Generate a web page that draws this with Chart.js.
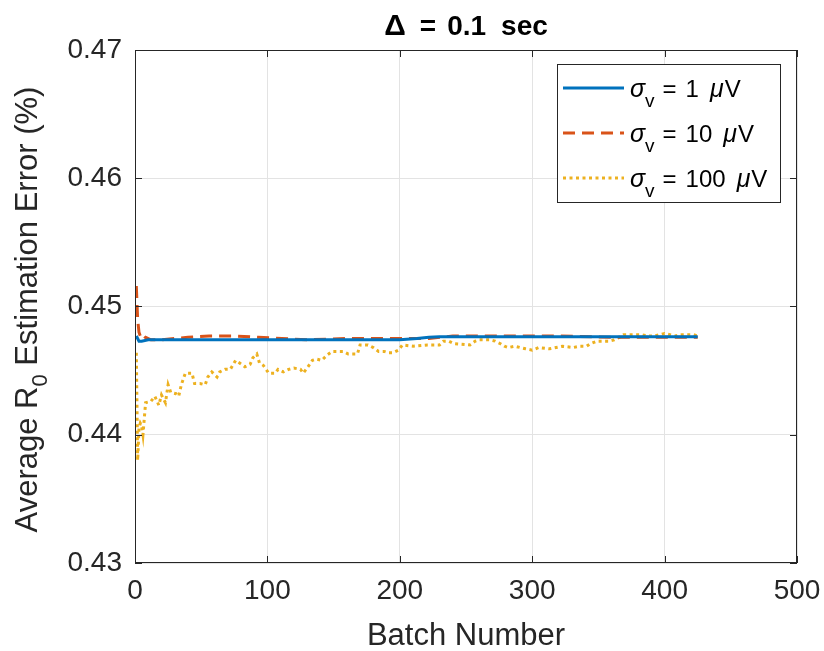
<!DOCTYPE html>
<html>
<head>
<meta charset="utf-8">
<script src="https://cdn.jsdelivr.net/npm/chart.js@4"></script>
<style>
  html, body { margin: 0; padding: 0; background: #fff; }
  #wrap { width: 824px; height: 651px; }
</style>
</head>
<body>
<div id="wrap"><canvas id="errChart" width="824" height="651"></canvas></div>
<script>
// values
const xTicks = [0, 100, 200, 300, 400, 500];
const yTicks = [0.43, 0.44, 0.45, 0.46, 0.47];

const blueBatch = [1, 2, 3, 5, 10, 30, 60, 100, 150, 200, 213, 222, 230, 260, 300, 350, 400, 425];
const blueErr = [0.4477, 0.4475, 0.4473, 0.4473, 0.4474, 0.4474, 0.4474, 0.4474, 0.4474, 0.4474,
  0.4475, 0.4476, 0.44765, 0.44765, 0.44765, 0.44765, 0.44765, 0.44765];

const redBatch = [1, 2, 3, 4, 5, 6, 8, 12, 20, 40, 56, 75, 93, 111, 130, 160, 200, 222, 240, 280, 320, 360, 400, 425];
const redErr = [0.4516, 0.4490, 0.4480, 0.4477, 0.4475, 0.4474, 0.4476, 0.4474, 0.4474, 0.4476, 0.4477, 0.4477,
  0.4476, 0.4475, 0.4474, 0.4475, 0.4475, 0.4475, 0.4477, 0.4477, 0.4477, 0.4476, 0.4476, 0.4476];

const yellowBatch = [1, 2, 3, 4, 5, 6, 8, 12, 15, 18, 20, 23, 25, 27, 31, 33, 35, 38, 43, 45, 49, 53, 55, 58, 62, 64,
  68, 72, 76, 79, 83, 87, 89, 92, 94, 97, 101, 106, 108, 112, 116, 120, 125, 127, 130, 134, 137, 141, 145, 149,
  152, 157, 161, 165, 168, 170, 176, 180, 184, 188, 191, 195, 199, 202, 210, 221, 230, 233, 237, 241, 253, 257,
  260, 268, 272, 276, 279, 282, 287, 295, 300, 305, 313, 318, 323, 331, 336, 341, 344, 349, 358, 362, 366, 369,
  378, 383, 387, 392, 396, 400, 404, 408, 413, 417, 422, 425];
const yellowErr = [0.4464, 0.4380, 0.4405, 0.4409, 0.4407, 0.4400, 0.4425, 0.4426, 0.4430, 0.4423, 0.4431, 0.4425,
  0.4439, 0.4433, 0.4432, 0.4430, 0.4439, 0.4448, 0.4448, 0.4440, 0.4440, 0.4439, 0.4445, 0.4449, 0.4445, 0.4449,
  0.4451, 0.4451, 0.4458, 0.4456, 0.4453, 0.4455, 0.4460, 0.4463, 0.4456, 0.4454, 0.4448, 0.4448, 0.4451, 0.4449,
  0.4451, 0.4452, 0.4451, 0.4448, 0.4452, 0.4458, 0.4459, 0.4458, 0.4462, 0.4465, 0.4465, 0.4465, 0.4463, 0.4463,
  0.4463, 0.4470, 0.4470, 0.4468, 0.4465, 0.4465, 0.4464, 0.4464, 0.4466, 0.4470, 0.4469, 0.4470, 0.4470, 0.4473,
  0.4473, 0.4471, 0.4470, 0.4473, 0.4474, 0.4474, 0.4473, 0.4471, 0.4469, 0.4468, 0.4469, 0.4467, 0.4466, 0.4468,
  0.4467, 0.4468, 0.4469, 0.4468, 0.4469, 0.4469, 0.4471, 0.4473, 0.4473, 0.4474, 0.4476, 0.4478, 0.4478, 0.4478,
  0.4477, 0.4477, 0.4478, 0.4479, 0.4478, 0.4477, 0.4478, 0.4478, 0.4478, 0.4477];

const legendValues = ['1', '10', '100'];

const BLUE = '#0072BD';
const RED = '#D95319';
const YELLOW = '#EDB120';
const AXIS = '#262626';
const FONT = '"Liberation Sans", Arial, Helvetica, sans-serif';

function toPoints(xs, ys) {
  return xs.map((x, i) => ({ x: x, y: ys[i] }));
}

const series = [
  { data: toPoints(blueBatch, blueErr), color: BLUE, dash: [] },
  { data: toPoints(redBatch, redErr), color: RED, dash: [12, 7] },
  { data: toPoints(yellowBatch, yellowErr), color: YELLOW, dash: [3, 3.5] }
];

// draw a run of text pieces one after the other
function drawRun(c, parts, x, y) {
  let px = x;
  parts.forEach(p => {
    c.font = p.f;
    c.fillText(p.t, px, y + (p.dy || 0));
    px += c.measureText(p.t).width + (p.gap || 0);
  });
}

function runWidth(c, parts) {
  let w = 0;
  parts.forEach(p => { c.font = p.f; w += c.measureText(p.t).width + (p.gap || 0); });
  return w;
}

// frame, inward ticks, titles and the tex-like legend
const decorations = {
  id: 'decorations',
  afterDraw(chart) {
    const c = chart.ctx;
    const a = chart.chartArea;
    const xs = chart.scales.x;
    const ys = chart.scales.y;
    c.save();

    // box + tick marks on all four sides
    c.strokeStyle = AXIS;
    c.lineWidth = 1;
    c.strokeRect(a.left + 0.5, a.top + 0.5, a.right - a.left - 1, a.bottom - a.top - 1);
    c.beginPath();
    xTicks.forEach(v => {
      const px = Math.round(xs.getPixelForValue(v)) + 0.5;
      c.moveTo(px, a.bottom); c.lineTo(px, a.bottom - 7);
      c.moveTo(px, a.top); c.lineTo(px, a.top + 7);
    });
    yTicks.forEach(v => {
      const py = Math.round(ys.getPixelForValue(v)) + 0.5;
      c.moveTo(a.left, py); c.lineTo(a.left + 7, py);
      c.moveTo(a.right, py); c.lineTo(a.right - 7, py);
    });
    c.stroke();

    // title, spaced like the tex renderer does
    c.fillStyle = '#000';
    c.textAlign = 'left';
    c.textBaseline = 'alphabetic';
    const tb = 'bold 28px ' + FONT;
    const titleParts = [
      { t: '\u0394', f: 'bold 30px ' + FONT, gap: 14 },
      { t: '=', f: tb, gap: 11 },
      { t: '0.1', f: tb, gap: 15 },
      { t: 'sec', f: tb }
    ];
    const tw = runWidth(c, titleParts);
    drawRun(c, titleParts, (a.left + a.right) / 2 - tw / 2, 35);

    // x title
    c.fillStyle = AXIS;
    c.textAlign = 'center';
    c.font = '31px ' + FONT;
    c.fillText('Batch Number', (a.left + a.right) / 2, 645);

    // y title with subscript
    c.save();
    c.translate(37, (a.top + a.bottom) / 2 + 3);
    c.rotate(-Math.PI / 2);
    c.textAlign = 'left';
    const big = '31px ' + FONT;
    const yParts = [
      { t: 'Average R', f: big },
      { t: '0', f: '22px ' + FONT, dy: 10 },
      { t: ' Estimation Error (%)', f: big }
    ];
    drawRun(c, yParts, -runWidth(c, yParts) / 2, 0);
    c.restore();

    // legend
    const lx = 557, ly = 64, lw = 223, lh = 138;
    c.fillStyle = '#fff';
    c.fillRect(lx, ly, lw, lh);
    c.strokeStyle = AXIS;
    c.lineWidth = 1;
    c.strokeRect(lx + 0.5, ly + 0.5, lw, lh);
    const rows = [88, 133, 178];
    series.forEach((s, i) => {
      const ry = rows[i];
      c.strokeStyle = s.color;
      c.lineWidth = 3;
      c.setLineDash(s.dash);
      c.beginPath();
      c.moveTo(563, ry); c.lineTo(624, ry);
      c.stroke();
      c.setLineDash([]);

      c.fillStyle = '#000';
      c.textAlign = 'left';
      const lf = '24px ' + FONT;
      const pieces = [
        { t: '\u03C3', f: 'italic 25px ' + FONT },
        { t: 'v', f: '19px ' + FONT, dy: 10, gap: 8 },
        { t: '=', f: lf, gap: 9 },
        { t: legendValues[i], f: lf, gap: 11 },
        { t: '\u03BC', f: 'italic 25px ' + FONT, gap: 1 },
        { t: 'V', f: lf }
      ];
      drawRun(c, pieces, 630, ry + 9);
    });
    c.restore();
  }
};

const ctx = document.getElementById('errChart').getContext('2d');

const errChart = new Chart(ctx, {
  type: 'line',
  data: {
    datasets: series.map(s => ({
      data: s.data,
      borderColor: s.color,
      borderWidth: 3,
      borderDash: s.dash,
      pointRadius: 0,
      tension: 0,
      fill: false
    }))
  },
  options: {
    responsive: false,
    animation: false,
    layout: { padding: { top: 50, right: 27, left: 0, bottom: 0 } },
    plugins: {
      legend: { display: false },
      title: { display: false },
      tooltip: { enabled: false }
    },
    scales: {
      x: {
        type: 'linear',
        min: 0,
        max: 500,
        afterFit: scale => {
          scale.height = 88;
          scale.paddingLeft = 0;
          scale.paddingRight = 0;
        },
        afterBuildTicks: scale => { scale.ticks = xTicks.map(v => ({ value: v })); },
        grid: { color: '#e3e3e3', drawTicks: false },
        border: { display: false },
        ticks: {
          padding: 11,
          color: AXIS,
          font: { family: FONT, size: 28 },
          callback: v => String(v)
        }
      },
      y: {
        min: 0.43,
        max: 0.47,
        afterFit: scale => {
          scale.width = 135;
          scale.paddingTop = 0;
          scale.paddingBottom = 0;
        },
        afterBuildTicks: scale => { scale.ticks = yTicks.map(v => ({ value: v })); },
        grid: { color: '#e3e3e3', drawTicks: false },
        border: { display: false },
        ticks: {
          padding: 13,
          color: AXIS,
          font: { family: FONT, size: 28 },
          callback: v => Number(v).toFixed(2)
        }
      }
    }
  },
  plugins: [decorations]
});
</script>
</body>
</html>
